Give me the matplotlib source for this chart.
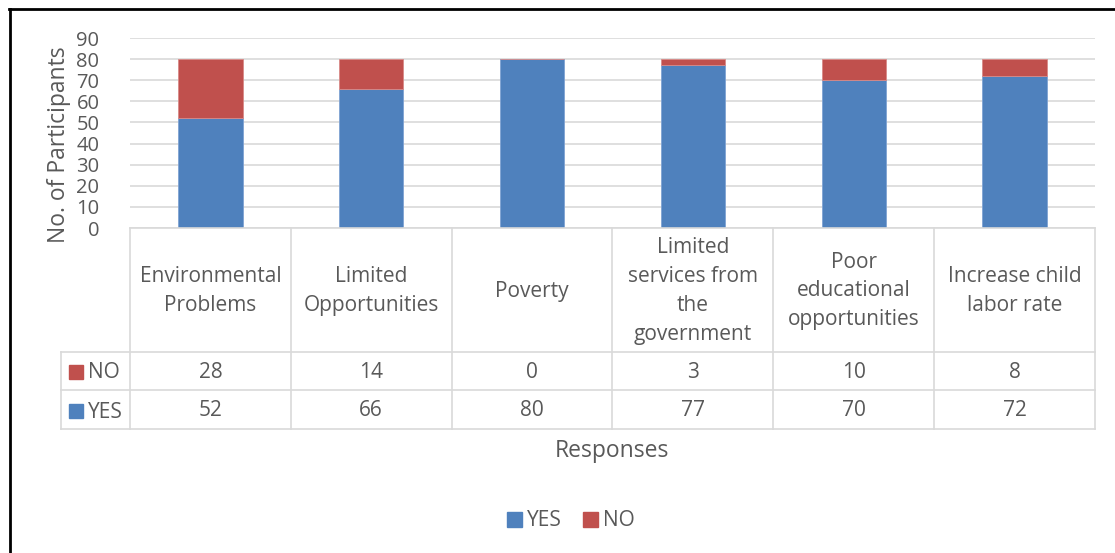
import matplotlib
matplotlib.use("Agg")
import matplotlib.pyplot as plt
from matplotlib.lines import Line2D
from matplotlib.patches import Rectangle

plt.rcParams['font.family'] = ['Open Sans', 'DejaVu Sans']

# data
categories = ["Environmental\nProblems", "Limited\nOpportunities", "Poverty",
              "Limited\nservices from\nthe\ngovernment", "Poor\neducational\nopportunities",
              "Increase child\nlabor rate"]
yes_vals = [52, 66, 80, 77, 70, 72]
no_vals = [28, 14, 0, 3, 10, 8]
series_names = ["YES", "NO"]
y_ticks = [0, 10, 20, 30, 40, 50, 60, 70, 80, 90]

blue = "#4F81BD"
red = "#C0504D"
txt = "#595959"
grid = "#D9D9D9"

W, H = 1115, 553
fig = plt.figure(figsize=(W / 100, H / 100), dpi=100)

def fbox(x0, y0, x1, y1):
    # pixel box (top-left origin) -> figure fraction rect
    return [x0 / W, 1 - y1 / H, (x1 - x0) / W, (y1 - y0) / H]

# main bar axes
ax = fig.add_axes(fbox(130, 38, 1095, 228))
x = range(len(categories))
ax.bar(x, yes_vals, width=0.4, color=blue, edgecolor="#7FA3D3", linewidth=0.6, zorder=3)
ax.bar(x, no_vals, width=0.4, bottom=yes_vals, color=red, edgecolor="#D88A88", linewidth=0.6, zorder=3)
ax.set_xlim(-0.5, len(categories) - 0.5)
ax.set_ylim(0, 90)
ax.set_yticks(y_ticks)
ax.set_yticklabels([str(t) for t in y_ticks], fontsize=14.5, color=txt)
ax.tick_params(axis='y', length=0, pad=22)
ax.set_xticks([])
ax.yaxis.grid(True, color=grid, linewidth=1.2, zorder=0)
for s in ax.spines.values():
    s.set_visible(False)
ax.set_ylabel("No. of Participants", fontsize=16.5, color=txt)
ax.yaxis.set_label_coords(-0.061, 0.44)

# data table below the bars
tx0 = -0.5 - 69 / (965 / 6)
tab = fig.add_axes(fbox(61, 228, 1095, 429))
tab.set_xlim(tx0, len(categories) - 0.5)
tab.set_ylim(201, 0)
tab.axis("off")
lc = grid
lw = 1.2
# horizontal lines
tab.plot([-0.5, len(categories) - 0.5], [0, 0], color=lc, lw=lw, clip_on=False)
for yy in [124, 162, 201]:
    tab.plot([tx0, len(categories) - 0.5], [yy, yy], color=lc, lw=lw, clip_on=False)
# vertical lines
for i in range(len(categories) + 1):
    tab.plot([i - 0.5, i - 0.5], [0, 201], color=lc, lw=lw, clip_on=False)
tab.plot([tx0, tx0], [124, 201], color=lc, lw=lw, clip_on=False)

fs = 15
for i, c in enumerate(categories):
    tab.text(i, 63, c, ha="center", va="center", fontsize=fs, color=txt, linespacing=1.5)
    tab.text(i, 145, str(no_vals[i]), ha="center", va="center", fontsize=fs, color=txt)
    tab.text(i, 183, str(yes_vals[i]), ha="center", va="center", fontsize=fs, color=txt)

sw = 14 / (965 / 6)
for yy, name, col in [(144, series_names[1], red), (183, series_names[0], blue)]:
    tab.add_patch(Rectangle((tx0 + 8 / (965 / 6), yy - 7), sw, 14, color=col, clip_on=False))
    tab.text(tx0 + 27 / (965 / 6), yy + 1, name, ha="left", va="center", fontsize=fs, color=txt)

# x axis title
fig.text(612 / W, 1 - 451 / H, "Responses", ha="center", va="center", fontsize=16.5, color=txt)

# legend
handles = [Rectangle((0, 0), 1, 1, color=blue), Rectangle((0, 0), 1, 1, color=red)]
fig.legend(handles, series_names, loc="center", bbox_to_anchor=(571 / W, 1 - 521 / H),
           ncol=2, frameon=False, fontsize=15, labelcolor=txt,
           handlelength=0.7, handleheight=0.7, handletextpad=0.25, columnspacing=1.0)

# black frame around the chart (cut at right and bottom)
fig.add_artist(Line2D([10 / W, 10 / W], [0, 1 - 9 / H], color="black", lw=2, transform=fig.transFigure))
fig.add_artist(Line2D([9 / W, 1], [1 - 9 / H, 1 - 9 / H], color="black", lw=2, transform=fig.transFigure))

fig.savefig("out.png", dpi=100)
